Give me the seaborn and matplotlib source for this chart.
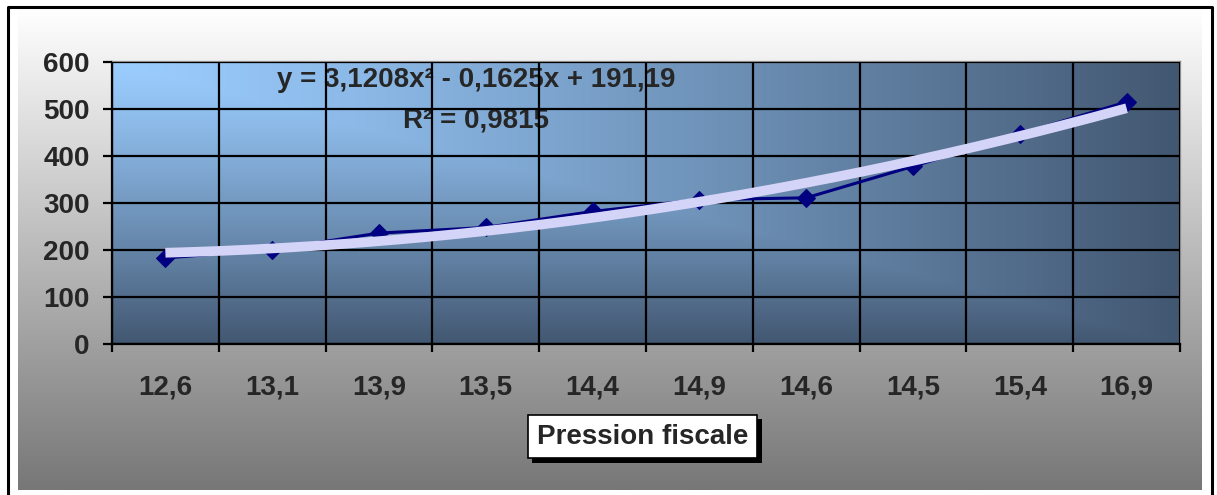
import numpy as np
import pandas as pd
import matplotlib
matplotlib.use("Agg")
import matplotlib.pyplot as plt
import matplotlib.patheffects as pe
from matplotlib.colors import LinearSegmentedColormap
from matplotlib.ticker import FixedLocator, MultipleLocator
import seaborn as sns

# Pression fiscale categories and observed values
categories = ["12,6", "13,1", "13,9", "13,5", "14,4", "14,9", "14,6", "14,5", "15,4", "16,9"]
values = [183, 201, 236, 248, 282, 307, 311, 378, 447, 515]

# Polynomial trend (order 2): y = a x^2 + b x + c, x = rank 1..10
trend_coefs = [3.1208, -0.1625, 191.19]
r_squared = 0.9815

y_ticks = [0, 100, 200, 300, 400, 500, 600]

sns.set_style("white")
plt.rcParams["font.family"] = ["Liberation Sans", "DejaVu Sans"]
plt.rcParams["font.weight"] = "bold"

FS = 20
W, H = 1217, 495
fig = plt.figure(figsize=(W / 100, H / 100), dpi=100)
fig.patch.set_facecolor("white")

# Chart area: white-to-grey vertical gradient inside a black frame
bg = fig.add_axes([0, 0, 1, 1], zorder=-10)
bg.set_xlim(0, W)
bg.set_ylim(H, 0)
bg.axis("off")
grey = LinearSegmentedColormap.from_list("grey", ["#ffffff", "#777777"])
bg.imshow(np.linspace(0, 1, 256)[:, None], cmap=grey, aspect="auto",
          extent=(18, 1202, 490, 8), interpolation="bilinear")
bg.plot([7.5, 7.5, 1210, 1210], [505, 6.5, 6.5, 6.5], color="black", lw=2.2,
        solid_capstyle="projecting")
bg.plot([1211.5, 1211.5], [7, 505], color="black", lw=2.2)

# Plot area
ax = fig.add_axes([112 / W, 1 - 344 / H, 1068 / W, 282 / H])
ax.set_facecolor("none")

# Corner gradient: light blue at top-left, slate toward bottom and right
gx, gy = np.meshgrid(np.linspace(0, 1, 600), np.linspace(0, 1, 300))
t = np.maximum(gx, gy) ** 1.2
c0 = np.array([155, 205, 255]) / 255
c1 = np.array([66, 87, 113]) / 255
img = c0[None, None, :] * (1 - t[..., None]) + c1[None, None, :] * t[..., None]
ax.imshow(img, extent=(0, 1, 0, 1), transform=ax.transAxes, aspect="auto",
          zorder=0, interpolation="bilinear")

df = pd.DataFrame({"rang": np.arange(1, len(values) + 1), "valeur": values})
sns.lineplot(data=df, x="rang", y="valeur", ax=ax, color="#000080", lw=2.2,
             marker="D", markersize=9, markeredgecolor="#000080", zorder=3)

xs = np.linspace(1, len(values), 200)
ys = np.polyval(trend_coefs, xs)
trend = pd.DataFrame({"rang": xs, "valeur": ys})
sns.lineplot(data=trend, x="rang", y="valeur", ax=ax, color="#d4d4f8", lw=7,
             zorder=4, solid_capstyle="butt")

ax.set_xlim(0.5, len(values) + 0.5)
ax.set_ylim(0, 600)

ax.xaxis.set_major_locator(FixedLocator(df["rang"]))
ax.set_xticklabels(categories)
ax.xaxis.set_minor_locator(MultipleLocator(1, offset=0.5))
ax.set_yticks(y_ticks)

ax.tick_params(axis="x", which="major", length=0, pad=22, labelsize=FS)
ax.tick_params(axis="x", which="minor", length=6, width=1.6, direction="out",
               color="black", bottom=True)
ax.tick_params(axis="y", which="major", length=6.5, width=1.6, direction="out",
               color="black", pad=9.6, labelsize=FS, left=True)
for lab in ax.get_xticklabels() + ax.get_yticklabels():
    lab.set_fontweight("bold")

ax.set_axisbelow(False)
ax.grid(axis="y", which="major", color="black", lw=1.6, zorder=2.5)
ax.grid(axis="x", which="minor", color="black", lw=1.6, zorder=2.5)
ax.grid(axis="x", which="major", visible=False)

for side in ("left", "bottom"):
    ax.spines[side].set_color("black")
    ax.spines[side].set_linewidth(1.6)
for side in ("top", "right"):
    ax.spines[side].set_color("#8a8a8a")
    ax.spines[side].set_linewidth(1.6)

a, b, c = trend_coefs
fmt = lambda v: f"{abs(v):.4f}".rstrip("0").replace(".", ",")
eq = f"y = {fmt(a)}x² - {fmt(b)}x + {c:.2f}".replace(".", ",")
ax.text(0.341, 0.936, eq, transform=ax.transAxes, ha="center", va="center",
        fontsize=FS, fontweight="bold", zorder=2)
ax.text(0.341, 0.794, f"R² = {r_squared:.4f}".replace(".", ","),
        transform=ax.transAxes, ha="center", va="center",
        fontsize=FS, fontweight="bold", zorder=2)

ax.set_ylabel("")
xl = ax.set_xlabel("Pression fiscale", fontsize=FS, fontweight="bold", va="center",
                   bbox=dict(boxstyle="square,pad=0.32", facecolor="white",
                             edgecolor="black", lw=1.2))
ax.xaxis.set_label_coords(0.497, (344 - 436.5) / 282)
xl.get_bbox_patch().set_path_effects(
    [pe.withSimplePatchShadow(offset=(3, -3), shadow_rgbFace="black", alpha=1)])

fig.savefig("out.png", dpi=100)
